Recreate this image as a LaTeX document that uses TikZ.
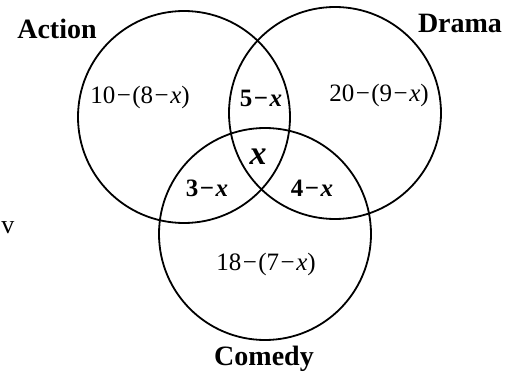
\documentclass[tikz,border=0pt]{standalone}
\usepackage{fontspec}
\setmainfont{Liberation Serif}
\usetikzlibrary{positioning}

\newcommand{\mn}{\kern1.5pt−\kern1.5pt} % spaced minus sign

\tikzset{
  setcircle/.style={draw,circle,line width=1.8pt,minimum size=212pt,inner sep=0pt},
  setname/.style={font=\fontsize{28}{30}\selectfont\bfseries,inner sep=0pt},
  region/.style={font=\fontsize{25}{27}\selectfont,inner sep=0pt},
  boldregion/.style={font=\fontsize{25}{27}\selectfont\bfseries,inner sep=0pt}
}

\begin{document}
\begin{tikzpicture}[x=1pt,y=-1pt]

  \def\R{106} % circle radius
  \useasboundingbox (0,0) rectangle (515,374);

  % The three sets
  \node[setcircle] (action) at (184,117) {};
  \node[setcircle] (drama) at (335,113) {};
  \node[setcircle] (comedy) at (265,234) {};

  % Set names
  \node[setname] (actionname) at (57,29) {Action};
  \node[setname] (dramaname) at (460,23) {Drama};
  \node[setname] (comedyname) at (264,359) {Comedy};

  % Only one set
  \node[region] (onlyaction) at (140,97) {10\mn(8\mn\textit{x})};
  \node[region] (onlydrama) at (379,95) {20\mn(9\mn\textit{x})};
  \node[region] (onlycomedy) at (266,264) {18\mn(7\mn\textit{x})};

  % Two sets
  \node[boldregion] (actdrama) at (261,98) {5\mn\textit{x}};
  \node[boldregion] (actcomedy) at (207,188) {3\mn\textit{x}};
  \node[boldregion] (dramacomedy) at (312,188) {4\mn\textit{x}};

  % All three
  \node[font=\fontsize{34}{36}\selectfont\bfseries\itshape,inner sep=0pt] (all) at (258,157) {x};

  % stray mark at the left edge
  \node[font=\fontsize{26}{28}\selectfont,inner sep=0pt] (stray) at (8,228) {v};

\end{tikzpicture}
\end{document}
